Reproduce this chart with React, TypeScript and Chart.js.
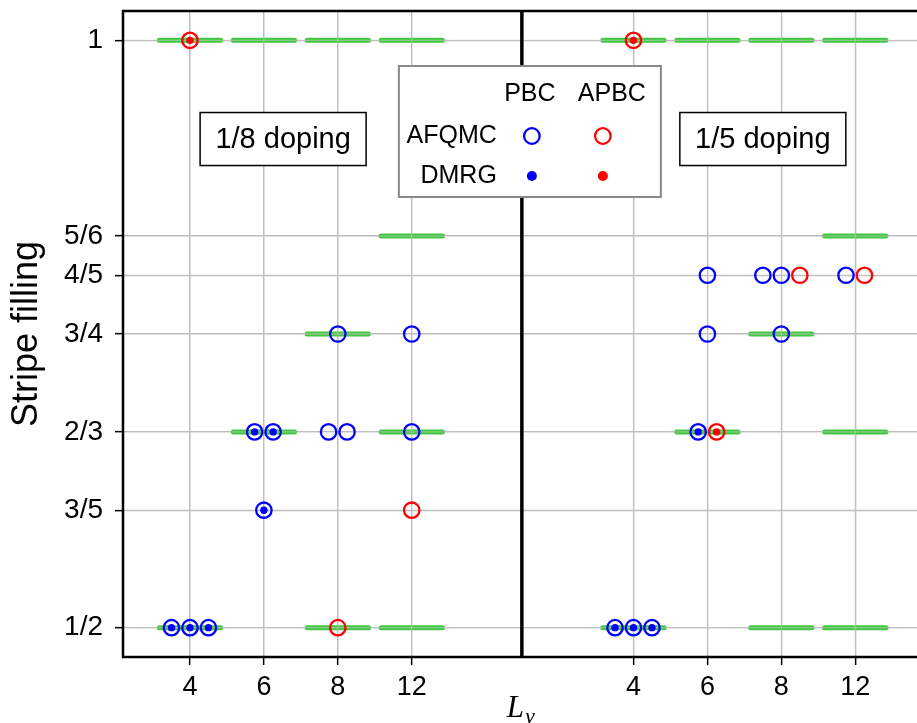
import React, { useEffect, useRef } from 'react';
import { Chart, registerables } from 'chart.js';

Chart.register(...registerables);

// ---------------- data ----------------
const LY_LABELS = ['4', '6', '8', '12'];
const FILLING_LABELS = ['1/2', '3/5', '2/3', '3/4', '4/5', '5/6', '1'];
const FILLING_VALUES = [1 / 2, 3 / 5, 2 / 3, 3 / 4, 4 / 5, 5 / 6, 1];
const PANEL_TITLES = ['1/8 doping', '1/5 doping'];

// green stripes: [Ly, filling]
const STRIPES_1_8: [string, string][] = [
  ['4', '1'], ['6', '1'], ['8', '1'], ['12', '1'],
  ['12', '5/6'],
  ['8', '3/4'],
  ['6', '2/3'], ['12', '2/3'],
  ['4', '1/2'], ['8', '1/2'], ['12', '1/2'],
];
const STRIPES_1_5: [string, string][] = [
  ['4', '1'], ['6', '1'], ['8', '1'], ['12', '1'],
  ['12', '5/6'],
  ['8', '3/4'],
  ['6', '2/3'], ['12', '2/3'],
  ['4', '1/2'], ['8', '1/2'], ['12', '1/2'],
];

// results: [Ly, filling, boundary condition, DMRG agrees]
const RESULTS_1_8: [string, string, string, boolean][] = [
  ['4', '1', 'APBC', true],
  ['8', '3/4', 'PBC', false],
  ['12', '3/4', 'PBC', false],
  ['6', '2/3', 'PBC', true],
  ['6', '2/3', 'PBC', true],
  ['8', '2/3', 'PBC', false],
  ['8', '2/3', 'PBC', false],
  ['12', '2/3', 'PBC', false],
  ['6', '3/5', 'PBC', true],
  ['12', '3/5', 'APBC', false],
  ['4', '1/2', 'PBC', true],
  ['4', '1/2', 'PBC', true],
  ['4', '1/2', 'PBC', true],
  ['8', '1/2', 'APBC', false],
];
const RESULTS_1_5: [string, string, string, boolean][] = [
  ['4', '1', 'APBC', true],
  ['6', '4/5', 'PBC', false],
  ['8', '4/5', 'PBC', false],
  ['8', '4/5', 'PBC', false],
  ['8', '4/5', 'APBC', false],
  ['12', '4/5', 'PBC', false],
  ['12', '4/5', 'APBC', false],
  ['6', '3/4', 'PBC', false],
  ['8', '3/4', 'PBC', false],
  ['6', '2/3', 'PBC', true],
  ['6', '2/3', 'APBC', true],
  ['4', '1/2', 'PBC', true],
  ['4', '1/2', 'PBC', true],
  ['4', '1/2', 'PBC', true],
];

// ---------------- layout ----------------
const PANEL_SHIFT = [0, 6];
const X_MIN = -0.906;
const X_MAX = 9.876;
const DIVIDER = 4.49;
const Y_MIN = 0.475;
const Y_MAX = 1.025;
const BAR_HALF = 0.415;
const SPREAD = 0.25;
const BOX_X = [1.26, 7.75];
const BOX_Y = 0.916;

const BLUE = '#0000ff';
const RED = '#ff0000';
const GREEN = '#40c840';
const GRID = '#b8b8b8';
const FONT = "'Liberation Sans', Arial, sans-serif";

const fillingValue = (f: string) => FILLING_VALUES[FILLING_LABELS.indexOf(f)];
const lyPos = (panel: number, ly: string) => PANEL_SHIFT[panel] + LY_LABELS.indexOf(ly);

function buildStripes() {
  const pts: { x: number; y: number | null }[] = [];
  [STRIPES_1_8, STRIPES_1_5].forEach((list, p) => {
    list.forEach(([ly, f]) => {
      const c = lyPos(p, ly);
      const y = fillingValue(f);
      pts.push({ x: c - BAR_HALF, y }, { x: c + BAR_HALF, y }, { x: c + BAR_HALF, y: null });
    });
  });
  return pts;
}

function buildMarkers() {
  const out = {
    afqmcPBC: [] as { x: number; y: number }[],
    afqmcAPBC: [] as { x: number; y: number }[],
    dmrgPBC: [] as { x: number; y: number }[],
    dmrgAPBC: [] as { x: number; y: number }[],
  };
  [RESULTS_1_8, RESULTS_1_5].forEach((list, p) => {
    const counts: Record<string, number> = {};
    list.forEach(([ly, f]) => {
      const k = ly + '|' + f;
      counts[k] = (counts[k] || 0) + 1;
    });
    const seen: Record<string, number> = {};
    list.forEach(([ly, f, bc, dmrg]) => {
      const k = ly + '|' + f;
      const i = seen[k] || 0;
      seen[k] = i + 1;
      const x = lyPos(p, ly) + (i - (counts[k] - 1) / 2) * SPREAD;
      const y = fillingValue(f);
      if (bc === 'PBC') {
        out.afqmcPBC.push({ x, y });
        if (dmrg) out.dmrgPBC.push({ x, y });
      } else {
        out.afqmcAPBC.push({ x, y });
        if (dmrg) out.dmrgAPBC.push({ x, y });
      }
    });
  });
  return out;
}

const X_TICKS = PANEL_SHIFT.flatMap((s) => LY_LABELS.map((_, i) => s + i));

const decorPlugin = {
  id: 'decor',
  afterDatasetDraw(chart: any, args: any) {
    if (args.meta.label !== 'stripes') return;
    const { ctx, chartArea: a, scales } = chart;
    ctx.save();
    ctx.beginPath();
    ctx.rect(a.left, a.top, a.right - a.left, a.bottom - a.top);
    ctx.clip();
    ctx.strokeStyle = 'rgba(200,200,200,0.55)';
    ctx.lineWidth = 1.3;
    X_TICKS.forEach((v) => {
      const px = scales.x.getPixelForValue(v);
      ctx.beginPath(); ctx.moveTo(px, a.top); ctx.lineTo(px, a.bottom); ctx.stroke();
    });
    FILLING_VALUES.forEach((v) => {
      const py = scales.y.getPixelForValue(v);
      ctx.beginPath(); ctx.moveTo(a.left, py); ctx.lineTo(a.right, py); ctx.stroke();
    });
    ctx.restore();
  },
  afterDatasetsDraw(chart: any) {
    const { ctx, chartArea: a, scales } = chart;
    ctx.save();
    ctx.strokeStyle = '#000';
    ctx.lineWidth = 2.5;
    ctx.strokeRect(a.left, a.top, a.right - a.left, a.bottom - a.top);
    const dx = scales.x.getPixelForValue(DIVIDER);
    ctx.lineWidth = 3.5;
    ctx.beginPath();
    ctx.moveTo(dx, a.top);
    ctx.lineTo(dx, a.bottom);
    ctx.stroke();
    ctx.restore();
  },
  afterDraw(chart: any) {
    const { ctx, chartArea: a, scales } = chart;
    const dx = scales.x.getPixelForValue(DIVIDER);
    ctx.save();
    // doping boxes
    PANEL_TITLES.forEach((t, p) => {
      const cx = scales.x.getPixelForValue(BOX_X[p]);
      const cy = scales.y.getPixelForValue(BOX_Y);
      const w = 166, h = 53;
      ctx.fillStyle = '#fff';
      ctx.fillRect(cx - w / 2, cy - h / 2, w, h);
      ctx.strokeStyle = '#000';
      ctx.lineWidth = 1.5;
      ctx.strokeRect(cx - w / 2, cy - h / 2, w, h);
      ctx.fillStyle = '#000';
      ctx.font = `29px ${FONT}`;
      ctx.textAlign = 'center';
      ctx.textBaseline = 'middle';
      ctx.fillText(t, cx, cy + 1);
    });
    // legend
    const lx = dx - 123, ly = a.top + 55, lw = 262, lh = 131;
    ctx.fillStyle = '#fff';
    ctx.fillRect(lx, ly, lw, lh);
    ctx.strokeStyle = '#888';
    ctx.lineWidth = 2;
    ctx.strokeRect(lx, ly, lw, lh);
    ctx.fillStyle = '#000';
    ctx.font = `25px ${FONT}`;
    ctx.textBaseline = 'middle';
    ctx.textAlign = 'center';
    const c1 = dx + 10, c2 = dx + 81;
    const r0 = ly + 28, r1 = ly + 70, r2 = ly + 110;
    ctx.fillText('PBC', dx + 8, r0);
    ctx.fillText('APBC', dx + 90, r0);
    ctx.textAlign = 'right';
    ctx.fillText('AFQMC', dx - 25, r1);
    ctx.fillText('DMRG', dx - 25, r2);
    ctx.lineWidth = 2.3;
    ctx.strokeStyle = BLUE;
    ctx.beginPath(); ctx.arc(c1, r1, 7.8, 0, Math.PI * 2); ctx.stroke();
    ctx.strokeStyle = RED;
    ctx.beginPath(); ctx.arc(c2, r1, 7.8, 0, Math.PI * 2); ctx.stroke();
    ctx.fillStyle = BLUE;
    ctx.beginPath(); ctx.arc(c1, r2, 5, 0, Math.PI * 2); ctx.fill();
    ctx.fillStyle = RED;
    ctx.beginPath(); ctx.arc(c2, r2, 5, 0, Math.PI * 2); ctx.fill();
    // x-axis title L_y
    ctx.fillStyle = '#000';
    ctx.textAlign = 'left';
    ctx.textBaseline = 'alphabetic';
    ctx.font = `italic 31px 'Liberation Serif', serif`;
    const lxp = dx - 15;
    ctx.fillText('L', lxp, 717);
    const lwid = ctx.measureText('L').width;
    ctx.font = `italic 22px 'Liberation Serif', serif`;
    ctx.fillText('y', lxp + lwid + 1, 723);
    ctx.restore();
  },
};

export default function App() {
  const ref = useRef<HTMLCanvasElement | null>(null);
  useEffect(() => {
    if (!ref.current) return;
    const m = buildMarkers();
    const chart = new Chart(ref.current, {
      type: 'scatter',
      data: {
        datasets: [
          { label: 'DMRG PBC', data: m.dmrgPBC, pointRadius: 3.7, pointHoverRadius: 3.7, backgroundColor: BLUE, borderColor: BLUE, borderWidth: 0 },
          { label: 'DMRG APBC', data: m.dmrgAPBC, pointRadius: 3.7, pointHoverRadius: 3.7, backgroundColor: RED, borderColor: RED, borderWidth: 0 },
          { label: 'AFQMC PBC', data: m.afqmcPBC, pointRadius: 7.7, pointHoverRadius: 7.7, backgroundColor: 'rgba(0,0,0,0)', borderColor: BLUE, borderWidth: 2.3 },
          { label: 'AFQMC APBC', data: m.afqmcAPBC, pointRadius: 7.7, pointHoverRadius: 7.7, backgroundColor: 'rgba(0,0,0,0)', borderColor: RED, borderWidth: 2.3 },
          { label: 'stripes', data: buildStripes() as any, showLine: true, pointRadius: 0, borderColor: GREEN, borderWidth: 5, borderCapStyle: 'round', spanGaps: false } as any,
        ],
      },
      options: {
        animation: false,
        responsive: false,
        events: [],
        layout: { autoPadding: false, padding: { top: 11, right: 5, left: 0, bottom: 0 } },
        plugins: { legend: { display: false }, tooltip: { enabled: false } },
        scales: {
          x: {
            type: 'linear',
            min: X_MIN,
            max: X_MAX,
            afterBuildTicks: (s: any) => { s.ticks = X_TICKS.map((v) => ({ value: v })); },
            afterFit: (s: any) => { s.height = 66; s.paddingLeft = 0; s.paddingRight = 0; },
            ticks: {
              autoSkip: false,
              maxRotation: 0,
              padding: 6,
              color: '#000',
              font: { family: FONT, size: 27 },
              callback: (_v: any, i: number) => LY_LABELS[i % LY_LABELS.length],
            },
            grid: { color: GRID, lineWidth: 1.3, tickColor: '#000', tickLength: 8, tickWidth: 1.5 },
            border: { display: false },
          },
          y: {
            type: 'linear',
            min: Y_MIN,
            max: Y_MAX,
            afterBuildTicks: (s: any) => { s.ticks = FILLING_VALUES.map((v) => ({ value: v })); },
            afterFit: (s: any) => { s.width = 123; s.paddingTop = 0; s.paddingBottom = 0; },
            ticks: {
              autoSkip: false,
              padding: 12,
              color: '#000',
              font: { family: FONT, size: 28 },
              callback: (_v: any, i: number) => FILLING_LABELS[i],
            },
            grid: { color: GRID, lineWidth: 1.3, tickColor: '#000', tickLength: 8, tickWidth: 1.5 },
            border: { display: false },
            title: { display: true, text: 'Stripe filling', color: '#000', font: { family: FONT, size: 36 }, padding: { top: 5, bottom: 0 } },
          },
        },
      },
      plugins: [decorPlugin],
    } as any);
    return () => chart.destroy();
  }, []);
  return (
    <div style={{ position: 'fixed', left: 0, top: 0, width: 925, height: 723, background: '#fff' }}>
      <canvas ref={ref} width={925} height={723} style={{ width: 925, height: 723, display: 'block' }} />
    </div>
  );
}
